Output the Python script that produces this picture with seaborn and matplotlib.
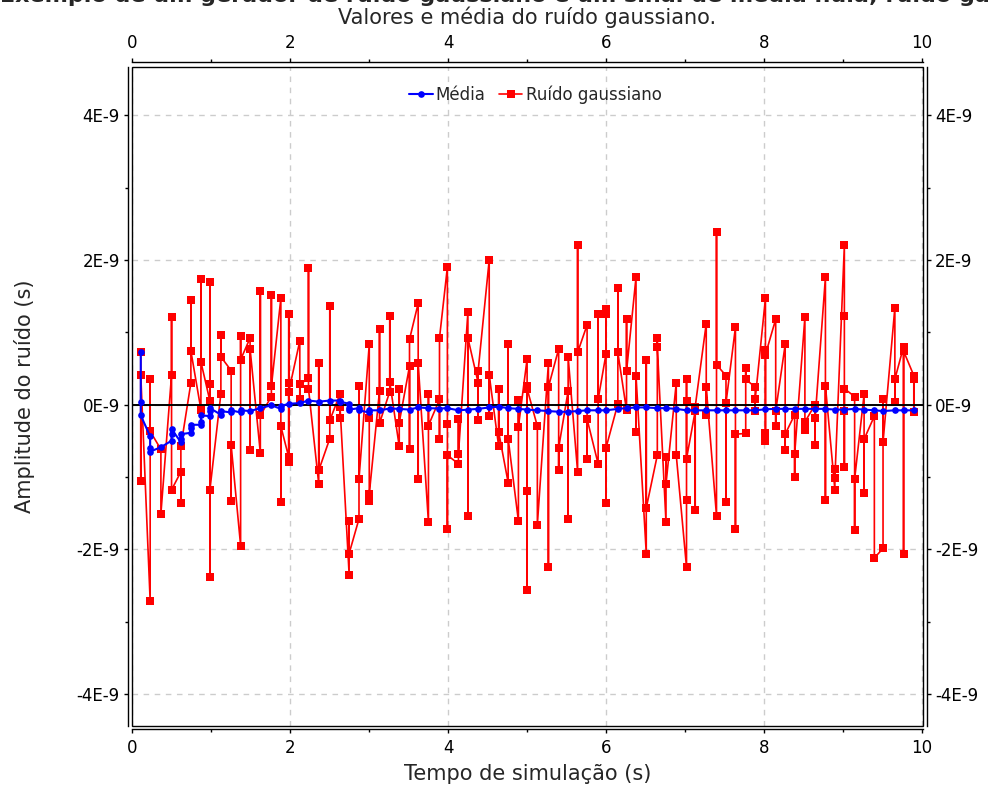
import numpy as np
import pandas as pd
import matplotlib
matplotlib.use("Agg")
import matplotlib.pyplot as plt
from matplotlib.ticker import MultipleLocator, FuncFormatter
from matplotlib.patches import Rectangle
import seaborn as sns

# ---- data ----
col_t = [0.105, 0.224, 0.36, 0.495, 0.613, 0.74, 0.867, 0.981, 1.12, 1.25,
         1.37, 1.49, 1.62, 1.76, 1.88, 1.98, 2.12, 2.23, 2.36, 2.50,
         2.63, 2.745, 2.87, 3.0, 3.13, 3.26, 3.38, 3.51, 3.62, 3.75,
         3.89, 3.99, 4.13, 4.25, 4.38, 4.52, 4.64, 4.76, 4.89, 5.0,
         5.13, 5.27, 5.40, 5.52, 5.64, 5.76, 5.90, 6.0, 6.15, 6.26,
         6.38, 6.51, 6.65, 6.76, 6.89, 7.02, 7.13, 7.27, 7.40, 7.52,
         7.64, 7.77, 7.89, 8.02, 8.15, 8.27, 8.39, 8.52, 8.65, 8.78,
         8.90, 9.02, 9.15, 9.27, 9.40, 9.51, 9.66, 9.77, 9.90]

noise_cols = [
    [0.73, -1.06, 0.41], [-2.72, 0.35, -0.37], [-0.62, -1.51], [0.41, 1.21, -1.18],
    [-0.93, -1.36, -0.58], [0.30, 1.45, 0.74], [-0.07, 1.73, 0.59],
    [0.05, -2.39, 1.69, 0.28, -1.18], [0.15, 0.96, 0.66], [0.47, -1.33, -0.56],
    [-1.95, 0.95, 0.62], [0.92, -0.63, 0.77], [-0.67, 1.57, -0.15], [0.11, 1.51, 0.25],
    [1.47, -1.35, -0.30], [-0.73, 1.25, -0.80, 0.30, 0.18], [0.88, 0.08, 0.28],
    [0.36, 1.89, 0.22], [-1.10, 0.57, -0.91], [-0.47, 1.36, -0.22], [0.15, -0.18, -0.04],
    [-2.35, -1.61, -2.06], [-1.58, 0.26, -1.03], [0.83, -1.34, -0.18, -1.24],
    [0.19, 1.05, -0.26], [0.18, 1.23, 0.31], [-0.58, 0.22, -0.25], [0.53, -0.62, 0.90],
    [1.40, -1.03, 0.57], [-1.63, 0.15, -0.29], [0.07, -0.47, 0.92],
    [1.90, -1.72, -0.27, -0.70], [-0.82, -0.20, -0.69], [1.28, -1.54, 0.92],
    [0.30, -0.22, 0.47], [2.00, -0.16, 0.41], [-0.58, 0.22, -0.38], [-1.08, 0.83, -0.47],
    [-1.61, 0.06, -0.31], [0.63, -2.57, 0.25, -1.19, 0.22], [-0.30, -1.66],
    [0.57, -2.25, 0.24], [0.77, -0.91, -0.60], [0.19, -1.58, 0.66], [-0.93, 2.20, 0.72],
    [1.10, -0.75, -0.20], [-0.82, 1.25, 0.07], [0.70, 1.32, -1.36, 1.25, -0.60],
    [0.01, 1.61, 0.72], [-0.08, 1.18, 0.46], [1.76, -0.38, 0.40], [-2.06, 0.62, -1.43],
    [-0.70, 0.92, 0.80], [-1.63, -0.73, -1.10], [0.30, -0.70],
    [-2.25, 0.35, -1.32, 0.05, -0.75], [-0.09, -1.46, -0.03], [1.12, -0.14, 0.24],
    [-1.54, 2.38, 0.55], [0.40, -1.35, 0.02], [1.07, -1.72, -0.41], [-0.40, 0.51, 0.35],
    [0.24, -0.09, 0.07], [1.47, -0.50, 0.76, -0.40, 0.69], [1.18, -0.30, -0.09],
    [0.83, -0.63, -0.41], [-0.14, -1.00, -0.69], [1.21, -0.35, -0.24], [0.00, -0.56, -0.18],
    [1.76, -1.32, 0.26], [-1.18, -0.89, -1.02], [2.20, -0.86, 1.23, -0.09, 0.22],
    [0.11, -1.73, -1.03], [0.14, -1.22, -0.48], [-0.16, -2.12], [-1.99, 0.07, -0.52],
    [1.34, 0.04, 0.35], [0.80, -2.06, 0.74], [0.40, -0.10, 0.35],
]

mean_cols = [
    [0.73, 0.03, -0.15], [-0.44, -0.60, -0.65], [-0.59], [-0.50, -0.41, -0.34],
    [-0.52, -0.48, -0.41], [-0.39, -0.33, -0.28], [-0.28, -0.24, -0.15],
    [-0.16, -0.09, -0.05], [-0.14, -0.09], [-0.11, -0.08], [-0.11, -0.08], [-0.09],
    [-0.05], [-0.01], [-0.06, -0.02], [0.01], [0.02], [0.055], [0.04], [0.055],
    [0.055, 0.04], [0.01, -0.05, -0.07], [-0.05, -0.08], [-0.11, -0.08], [-0.08],
    [-0.055], [-0.06], [-0.07], [-0.04], [-0.05], [-0.055], [-0.05], [-0.08], [-0.07],
    [-0.06], [-0.04], [-0.03], [-0.05], [-0.06], [-0.07], [-0.08], [-0.09], [-0.10],
    [-0.10], [-0.09], [-0.08], [-0.08], [-0.08], [-0.06], [-0.05], [-0.04], [-0.04],
    [-0.05], [-0.05], [-0.06], [-0.08], [-0.08], [-0.08], [-0.08], [-0.08], [-0.08],
    [-0.08], [-0.08], [-0.065], [-0.06], [-0.06], [-0.06], [-0.06], [-0.06], [-0.06],
    [-0.07], [-0.07], [-0.06], [-0.07], [-0.08], [-0.09], [-0.08], [-0.08], [-0.08],
]

titulo = "Exemplo de um gerador de ruído gaussiano e um sinal de média nula; ruído gaussiano"
subtitulo = "Valores e média do ruído gaussiano."
xlabel = "Tempo de simulação (s)"
ylabel = "Amplitude do ruído (s)"
lab_media = "Média"
lab_ruido = "Ruído gaussiano"

# ---- build tables ----
noise_df = pd.DataFrame({
    "t": [t for t, vs in zip(col_t, noise_cols) for _ in vs],
    "v": [v * 1e-9 for vs in noise_cols for v in vs],
})
mean_df = pd.DataFrame({
    "t": [t for t, vs in zip(col_t, mean_cols) for _ in vs],
    "v": [v * 1e-9 for vs in mean_cols for v in vs],
})

sns.set_theme(style="white")
plt.rcParams['font.family'] = ['DejaVu Sans']
plt.rcParams['axes.edgecolor'] = 'black'

fig = plt.figure(figsize=(9.88, 7.87), dpi=100)
ax = fig.add_axes([0.1333, 0.0779, 0.9345 - 0.1333, 0.9152 - 0.0779])

ax.axhline(0, color='black', lw=1.4, zorder=2.5)

sns.lineplot(data=noise_df, x="t", y="v", ax=ax, sort=False, estimator=None,
             color='#ff0000', lw=1.2, marker='s', markersize=6.2,
             markeredgecolor='#ff0000', markeredgewidth=0, label=lab_ruido, zorder=2)
sns.lineplot(data=mean_df, x="t", y="v", ax=ax, sort=False, estimator=None,
             color='#0000ff', lw=1.5, marker='o', markersize=4.8,
             markeredgecolor='#0000ff', markeredgewidth=0, label=lab_media, zorder=3)

ax.set_xlim(-0.01, 10.02)
ax.set_ylim(-4.44e-9, 4.67e-9)
ax.xaxis.set_major_locator(MultipleLocator(2))
ax.xaxis.set_minor_locator(MultipleLocator(1))
ax.yaxis.set_major_locator(MultipleLocator(2e-9))
ax.yaxis.set_minor_locator(MultipleLocator(1e-9))
ax.yaxis.set_major_formatter(FuncFormatter(lambda v, p: f"{int(round(v * 1e9))}E-9"))

ax.grid(True, which='major', ls=(0, (4, 4)), color='#cccccc', lw=1)
ax.set_axisbelow(True)

for side, off in [('top', 3.3), ('bottom', 2.4), ('left', 2.4), ('right', 2.4)]:
    ax.spines[side].set_position(('outward', off))
    ax.spines[side].set_visible(True)
    ax.spines[side].set_linewidth(1.0)
    ax.spines[side].set_color('black')
ax.add_patch(Rectangle((0, 0), 1, 1, transform=ax.transAxes, fill=False,
                       ec='black', lw=1.0, clip_on=False, zorder=6))

ax.tick_params(axis='both', which='both', direction='out', top=True, right=True,
               bottom=True, left=True, labeltop=True, labelright=True,
               labelsize=12, colors='black', width=1, pad=3)
ax.tick_params(axis='x', which='both', pad=4)
ax.tick_params(which='major', length=3.2)
ax.tick_params(which='minor', length=2)

ax.set_xlabel(xlabel, fontsize=15, labelpad=5)
ax.set_ylabel(ylabel, fontsize=15, labelpad=30)
ax.set_title(subtitulo, fontsize=15, pad=7)

h, l = ax.get_legend_handles_labels()
order = [l.index(lab_media), l.index(lab_ruido)]
ax.legend([h[i] for i in order], [l[i] for i in order], loc='upper center',
          bbox_to_anchor=(0.51, 0.995), ncol=2, frameon=False, fontsize=12,
          handlelength=1.4, handletextpad=0.2, columnspacing=0.8)

fig.text(0.55, 1 - 2.5 / 787, titulo, ha='center', va='baseline',
         fontsize=16, weight='bold')

fig.savefig("out.png", dpi=100)
